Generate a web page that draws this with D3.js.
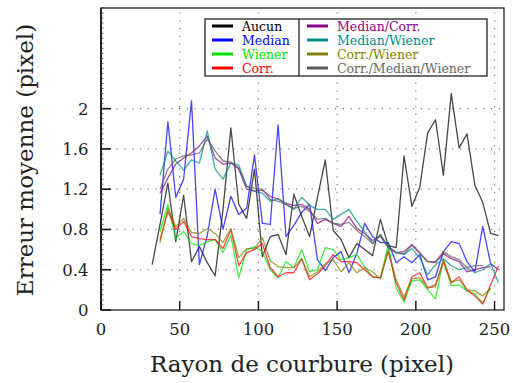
<!DOCTYPE html>
<html lang="fr">
<head>
<meta charset="utf-8">
<title>Erreur moyenne selon le rayon de courbure</title>
<script src="https://d3js.org/d3.v7.min.js"></script>
<style>
  body { margin: 0; background: #fff; }
  svg text { font-family: 'DejaVu Serif', serif; }
  .tick-label { font-size: 16.5px; fill: #222; }
  .axis-title { font-size: 23px; fill: #222; }
  .legend-text { font-size: 12.5px; }
</style>
</head>
<body>
<div id="chart"></div>
<script>

// x positions : one point every 5 pixels of radius, first one at 32.5
var rayon = d3.range(32.5, 253, 5);

// mean error for each filter combination (null = no point)
var aucun = [0.45, 0.85, 1.26, 0.68, 1.14, 0.48, 0.63, 0.47, 0.34, 1.00, 1.81, 1.05, 0.91, 1.40, 0.53, 0.73, 0.75, 0.55, 1.15, 0.93, 0.73, 1.12, 1.49, 0.79, 0.70, 0.52, 0.66, 0.60, 0.54, 0.90, 0.64, 0.62, 1.53, 1.03, 1.22, 1.76, 1.89, 1.34, 2.15, 1.61, 1.75, 1.24, 1.07, 0.76, 0.74];
var median = [null, 0.95, 1.87, 1.12, 1.30, 2.08, 0.45, 0.74, 1.20, 0.80, 1.13, 0.95, 1.01, 1.54, 0.86, 0.85, 1.84, 0.73, 0.84, 0.97, 1.05, 0.50, 0.39, 0.52, 0.58, 0.37, 0.56, 0.86, 0.73, 0.67, 0.67, 0.47, 0.53, 0.47, 0.55, 0.30, 0.33, 0.58, 0.68, 0.66, 0.48, 0.38, 0.83, 0.46, 0.40];
var wiener = [null, 0.78, 1.05, 0.71, 0.78, 0.66, 0.64, 0.68, 0.70, 0.57, 0.74, 0.32, 0.60, 0.63, 0.58, 0.40, 0.32, 0.48, 0.42, 0.60, 0.38, 0.40, 0.62, 0.60, 0.50, 0.52, 0.55, 0.43, 0.33, 0.32, 0.65, 0.22, 0.08, 0.29, 0.30, 0.20, 0.11, 0.50, 0.24, 0.25, 0.19, 0.16, 0.07, 0.22, null];
var corr = [null, 0.70, 0.98, 0.80, 0.88, 0.73, 0.71, 0.70, 0.70, 0.61, 0.80, 0.44, 0.57, 0.60, 0.66, 0.42, 0.33, 0.37, 0.37, 0.51, 0.30, 0.36, 0.44, 0.55, 0.48, 0.48, 0.47, 0.40, 0.33, 0.32, 0.58, 0.27, 0.10, 0.33, 0.37, 0.22, 0.25, 0.48, 0.27, 0.33, 0.20, 0.14, 0.06, 0.25, 0.44];
var medianCorr = [null, 1.16, 1.31, 1.45, 1.51, 1.56, 1.63, 1.73, 1.51, 1.45, 1.46, 1.40, 1.20, 1.18, 1.19, 1.13, 1.10, 1.06, 1.04, 1.05, 1.00, 0.86, 0.90, 0.86, 0.83, 0.93, 0.81, 0.76, 0.69, 0.73, 0.62, 0.57, 0.58, 0.65, 0.57, 0.48, 0.47, 0.56, 0.51, 0.48, 0.38, 0.40, 0.42, 0.43, null];
var medianWiener = [null, 1.34, 1.58, 1.48, 1.39, 1.49, 1.46, 1.78, 1.40, 1.30, 1.46, 1.44, 1.23, 1.18, 1.16, 1.08, 1.11, 1.05, 1.00, 1.12, 1.04, 1.00, 1.00, 0.90, 0.95, 1.00, 0.88, 0.78, 0.66, 0.75, 0.62, 0.57, 0.55, 0.61, 0.52, 0.35, 0.45, 0.51, 0.44, 0.40, 0.42, 0.37, 0.40, 0.46, 0.27];
var corrWiener = [null, 0.67, 1.01, 0.83, 0.91, 0.77, 0.76, 0.81, 0.76, 0.67, 0.81, 0.52, 0.61, 0.61, 0.72, 0.49, 0.43, 0.42, 0.42, 0.51, 0.33, 0.38, 0.46, 0.50, 0.38, 0.47, 0.37, 0.42, 0.38, 0.31, 0.60, 0.30, 0.13, 0.31, 0.32, 0.22, 0.23, 0.50, 0.28, 0.30, 0.20, 0.19, 0.14, 0.22, null];
var corrMedianWiener = [null, 1.20, 1.40, 1.50, 1.53, 1.54, 1.56, 1.70, 1.58, 1.48, 1.47, 1.41, 1.23, 1.21, 1.20, 1.10, 1.08, 1.05, 1.01, 1.03, 0.98, 0.90, 0.91, 0.86, 0.85, 0.87, 0.79, 0.73, 0.66, 0.75, 0.63, 0.57, 0.56, 0.64, 0.56, 0.48, 0.48, 0.58, 0.53, 0.50, 0.42, 0.44, 0.44, null, null];

var seriesNames = ["Aucun", "Median", "Wiener", "Corr.", "Median/Corr.", "Median/Wiener", "Corr./Wiener", "Corr./Median/Wiener"];
var seriesValues = [aucun, median, wiener, corr, medianCorr, medianWiener, corrWiener, corrMedianWiener];
var seriesColours = ["#000000", "#0000ff", "#00e600", "#ff0000", "#8b008b", "#008b8b", "#808000", "#5a5a5a"];

var xTicks = [0, 50, 100, 150, 200, 250];
var yTicks = [0, 0.4, 0.8, 1.2, 1.6, 2];

var W = 513, H = 383;

var svg = d3.select("#chart")
  .append("svg")
    .attr("width", W)
    .attr("height", H);

var x = d3.scaleLinear().domain([0, 256]).range([101, 504]);
var y = d3.scaleLinear().domain([0, 3]).range([310, 8]);

// dotted grid
svg.append("g")
  .selectAll("line.vgrid")
  .data(xTicks.slice(1))
  .enter()
  .append("line")
    .attr("x1", function(d) { return x(d); })
    .attr("x2", function(d) { return x(d); })
    .attr("y1", y(0))
    .attr("y2", y(3))
    .attr("stroke", "#777")
    .attr("stroke-width", 1.2)
    .attr("stroke-dasharray", "1.2,6.6");

svg.append("g")
  .selectAll("line.hgrid")
  .data(yTicks.slice(1))
  .enter()
  .append("line")
    .attr("x1", x(0))
    .attr("x2", x(256))
    .attr("y1", function(d) { return y(d); })
    .attr("y2", function(d) { return y(d); })
    .attr("stroke", "#777")
    .attr("stroke-width", 1.2)
    .attr("stroke-dasharray", "1.2,6.6");

// data lines
var line = d3.line()
  .defined(function(d) { return d[1] !== null; })
  .x(function(d) { return x(d[0]); })
  .y(function(d) { return y(d[1]); });

seriesValues.forEach(function(vals, i) {
  svg.append("path")
    .datum(rayon.map(function(r, j) { return [r, vals[j]]; }))
    .attr("d", line)
    .attr("fill", "none")
    .attr("stroke", seriesColours[i])
    .attr("stroke-width", 1.3)
    .attr("stroke-opacity", 0.72)
    .attr("stroke-linejoin", "round");
});

// frame
svg.append("rect")
  .attr("x", x(0))
  .attr("y", y(3))
  .attr("width", x(256) - x(0))
  .attr("height", y(0) - y(3))
  .attr("fill", "none")
  .attr("stroke", "#222")
  .attr("stroke-width", 1.3);

svg.append("line")
  .attr("x1", x(0)).attr("x2", x(0))
  .attr("y1", y(0)).attr("y2", y(3))
  .attr("stroke", "#222")
  .attr("stroke-width", 2);

// ticks (inward)
svg.append("g")
  .selectAll("line")
  .data(xTicks)
  .enter()
  .append("line")
    .attr("x1", function(d) { return x(d); })
    .attr("x2", function(d) { return x(d); })
    .attr("y1", y(0))
    .attr("y2", y(0) - 9)
    .attr("stroke", "#111")
    .attr("stroke-width", 1.4);

svg.append("g")
  .selectAll("line")
  .data(yTicks)
  .enter()
  .append("line")
    .attr("x1", x(0))
    .attr("x2", x(0) + 10)
    .attr("y1", function(d) { return y(d); })
    .attr("y2", function(d) { return y(d); })
    .attr("stroke", "#111")
    .attr("stroke-width", 1.6);

// minor ticks on the left axis
svg.append("g")
  .selectAll("line")
  .data(d3.range(0, 3.001, 0.05))
  .enter()
  .append("line")
    .attr("x1", x(0))
    .attr("x2", x(0) + 2.5)
    .attr("y1", function(d) { return y(d); })
    .attr("y2", function(d) { return y(d); })
    .attr("stroke", "#333")
    .attr("stroke-width", 0.8);

// tick labels
svg.append("g")
  .selectAll("text")
  .data(xTicks)
  .enter()
  .append("text")
    .attr("class", "tick-label")
    .attr("x", function(d) { return x(d); })
    .attr("y", 334.5)
    .attr("text-anchor", "middle")
    .text(function(d) { return d; });

svg.append("g")
  .selectAll("text")
  .data(yTicks)
  .enter()
  .append("text")
    .attr("class", "tick-label")
    .attr("x", 88.5)
    .attr("y", function(d) { return y(d) + 6; })
    .attr("text-anchor", "end")
    .text(function(d) { return d; });

// axis titles
svg.append("text")
  .attr("class", "axis-title")
  .attr("x", 302)
  .attr("y", 372)
  .attr("text-anchor", "middle")
  .text("Rayon de courbure (pixel)");

svg.append("text")
  .attr("class", "axis-title")
  .attr("transform", "translate(33,160) rotate(-90)")
  .attr("text-anchor", "middle")
  .text("Erreur moyenne (pixel)");

// legend
var legend = svg.append("g");
legend.append("rect")
  .attr("x", 205).attr("y", 19)
  .attr("width", 282).attr("height", 57)
  .attr("fill", "#fff")
  .attr("stroke", "#222")
  .attr("stroke-width", 1.3);
legend.append("line")
  .attr("x1", 299).attr("x2", 299)
  .attr("y1", 19).attr("y2", 76)
  .attr("stroke", "#222")
  .attr("stroke-width", 1.3);

seriesNames.forEach(function(name, i) {
  var col = Math.floor(i / 4), row = i % 4;
  var lx = col === 0 ? 212 : 307;
  var ly = 26 + row * 14;
  legend.append("line")
    .attr("x1", lx).attr("x2", lx + 21)
    .attr("y1", ly).attr("y2", ly)
    .attr("stroke", seriesColours[i])
    .attr("stroke-width", 3);
  legend.append("text")
    .attr("class", "legend-text")
    .attr("x", lx + 30)
    .attr("y", ly + 4.5)
    .attr("fill", seriesColours[i] === "#5a5a5a" ? "#666" : seriesColours[i])
    .text(name);
});

</script>
</body>
</html>
